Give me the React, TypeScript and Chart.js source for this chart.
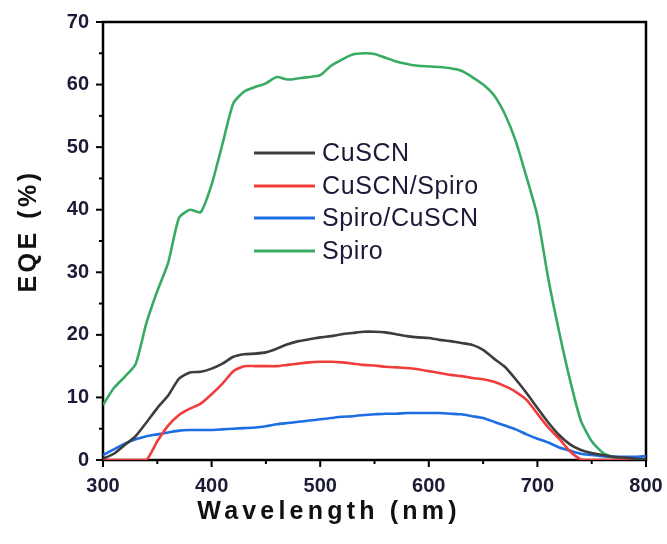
import React, { useEffect, useRef } from "react";
import { Chart, registerables } from "chart.js";

Chart.register(...registerables);

const wavelengths = [
  300, 310, 320, 330, 340, 350, 360, 370, 380, 390, 400, 410, 420, 430, 440, 450, 460, 470, 480, 490,
  500, 510, 520, 530, 540, 550, 560, 570, 580, 590, 600, 610, 620, 630, 640, 650, 660, 670, 680, 690,
  700, 710, 720, 730, 740, 750, 760, 770, 780, 790, 800,
];

const cuscn = [
  0.2, 1.0, 2.4, 3.8, 6.0, 8.3, 10.3, 13.0, 14.0, 14.1, 14.6, 15.4, 16.5, 16.9, 17.0, 17.2, 17.8, 18.5, 19.0, 19.3,
  19.6, 19.8, 20.1, 20.3, 20.5, 20.5, 20.4, 20.1, 19.8, 19.6, 19.5, 19.2, 19.0, 18.7, 18.4, 17.6, 16.2, 14.9, 12.9, 10.7,
  8.3, 6.0, 4.0, 2.5, 1.6, 1.1, 0.8, 0.5, 0.4, 0.2, 0.1,
];

const cuscnSpiro = [
  0, 0, 0, 0, 0, 3.0, 5.5, 7.2, 8.2, 9.0, 10.5, 12.2, 14.2, 15.0, 15.0, 15.0, 15.0, 15.2, 15.4, 15.6,
  15.7, 15.7, 15.6, 15.4, 15.2, 15.1, 14.9, 14.8, 14.7, 14.5, 14.2, 13.9, 13.6, 13.4, 13.1, 12.9, 12.5, 11.8, 10.9, 9.6,
  7.4, 5.2, 3.4, 1.4, 0.1, 0, 0, 0, 0, 0, 0,
];

const spiroCuscn = [
  0.8, 1.7, 2.6, 3.3, 3.8, 4.1, 4.4, 4.7, 4.8, 4.8, 4.8, 4.9, 5.0, 5.1, 5.2, 5.4, 5.7, 5.9, 6.1, 6.3,
  6.5, 6.7, 6.9, 7.0, 7.2, 7.3, 7.4, 7.4, 7.5, 7.5, 7.5, 7.5, 7.4, 7.3, 7.0, 6.7, 6.1, 5.5, 4.9, 4.1,
  3.4, 2.8, 2.0, 1.5, 1.0, 0.8, 0.6, 0.5, 0.5, 0.5, 0.6,
];

const spiro = [
  8.8, 11.5, 13.3, 15.3, 21.9, 27.0, 31.5, 38.7, 40.0, 39.6, 44.0, 50.5, 57.0, 58.9, 59.6, 60.2, 61.2, 60.8, 61.0, 61.2,
  61.5, 63.0, 64.0, 64.8, 65.0, 64.9, 64.3, 63.7, 63.3, 63.0, 62.9, 62.8, 62.6, 62.2, 61.2, 60.0, 58.3, 55.3, 51.0, 45.2,
  39.0, 29.0, 20.5, 12.8, 6.3, 3.0, 1.2, 0.5, 0.3, 0.2, 0.1,
];

const seriesLabels = ["CuSCN", "CuSCN/Spiro", "Spiro/CuSCN", "Spiro"];
const seriesColors = ["#3d3d3d", "#f23b3b", "#1d6ee2", "#38ab62"];
const seriesValues = [cuscn, cuscnSpiro, spiroCuscn, spiro];

const xTitle = "Wavelength (nm)";
const yTitle = "EQE (%)";

const FONT = "'Liberation Sans', Arial, sans-serif";
const TICK_COLOR = "#1b1b36";

const zeroPad = (s: any) => {
  s.paddingLeft = 0;
  s.paddingRight = 0;
  s.paddingTop = 0;
  s.paddingBottom = 0;
};

const decorPlugin = {
  id: "decor",
  beforeDatasetsDraw(chart: any) {
    const { ctx, chartArea } = chart;
    const { left, right, top, bottom } = chartArea;
    const xs = chart.scales.x;
    const ys = chart.scales.y;
    ctx.save();
    ctx.strokeStyle = "#000";
    ctx.lineWidth = 2.5;
    ctx.strokeRect(left, top, right - left, bottom - top);
    ctx.lineWidth = 2;
    for (let v = 0; v <= 70; v += 5) {
      const y = ys.getPixelForValue(v);
      const len = v % 10 === 0 ? 7 : 4;
      ctx.beginPath();
      ctx.moveTo(left, y);
      ctx.lineTo(left - len, y);
      ctx.stroke();
    }
    for (let v = 300; v <= 800; v += 50) {
      const x = xs.getPixelForValue(v);
      const len = v % 100 === 0 ? 7 : 4;
      ctx.beginPath();
      ctx.moveTo(x, bottom);
      ctx.lineTo(x, bottom + len);
      ctx.stroke();
    }
    ctx.restore();
  },
  afterDatasetsDraw(chart: any) {
    const { ctx } = chart;
    ctx.save();
    const lx0 = 254;
    const lx1 = 315;
    const rows = [153, 186, 218, 251];
    ctx.font = `25px ${FONT}`;
    (ctx as any).letterSpacing = "0.6px";
    ctx.textBaseline = "middle";
    ctx.textAlign = "left";
    chart.data.datasets.forEach((ds: any, i: number) => {
      const y = rows[i];
      ctx.strokeStyle = ds.borderColor;
      ctx.lineWidth = 3;
      ctx.beginPath();
      ctx.moveTo(lx0, y);
      ctx.lineTo(lx1, y);
      ctx.stroke();
      ctx.fillStyle = "#1a1a38";
      ctx.fillText(ds.label, 322, y + 1);
    });
    ctx.fillStyle = "#111";
    ctx.font = `bold 25px ${FONT}`;
    (ctx as any).letterSpacing = "4.2px";
    ctx.textAlign = "center";
    ctx.textBaseline = "middle";
    ctx.fillText(xTitle, 329, 512);
    (ctx as any).letterSpacing = "3.5px";
    ctx.translate(29, 231);
    ctx.rotate(-Math.PI / 2);
    ctx.fillText(yTitle, 0, 0);
    ctx.restore();
  },
};

export default function App() {
  const ref = useRef<HTMLCanvasElement | null>(null);
  useEffect(() => {
    if (!ref.current) return;
    const chart = new Chart(ref.current, {
      type: "line",
      data: {
        datasets: seriesLabels.map((label, i) => ({
          label,
          data: wavelengths.map((w, j) => ({ x: w, y: seriesValues[i][j] })),
          borderColor: seriesColors[i],
          backgroundColor: seriesColors[i],
          borderWidth: 2.6,
          pointRadius: 0,
          tension: 0.2,
          fill: false,
        })),
      },
      options: {
        animation: false,
        responsive: false,
        devicePixelRatio: 1,
        layout: { padding: { top: 22, right: 21, left: 0, bottom: 0 } },
        plugins: {
          legend: { display: false },
          tooltip: { enabled: false },
        },
        scales: {
          x: {
            type: "linear",
            min: 300,
            max: 800,
            grid: { display: false, drawTicks: false },
            border: { display: false },
            ticks: {
              stepSize: 100,
              padding: 14,
              color: TICK_COLOR,
              font: { family: FONT, size: 20, weight: "bold" },
              maxRotation: 0,
            },
            afterFit: (s: any) => {
              s.height = 84;
              zeroPad(s);
            },
          },
          y: {
            type: "linear",
            min: 0,
            max: 70,
            grid: { display: false, drawTicks: false },
            border: { display: false },
            ticks: {
              stepSize: 10,
              padding: 14,
              color: TICK_COLOR,
              font: { family: FONT, size: 20, weight: "bold" },
            },
            afterFit: (s: any) => {
              s.width = 103;
              zeroPad(s);
            },
          },
        },
      },
      plugins: [decorPlugin],
    });
    return () => chart.destroy();
  }, []);
  return (
    <div style={{ position: "fixed", left: 0, top: 0, width: 667, height: 544, background: "#fff" }}>
      <canvas ref={ref} width={667} height={544} />
    </div>
  );
}
